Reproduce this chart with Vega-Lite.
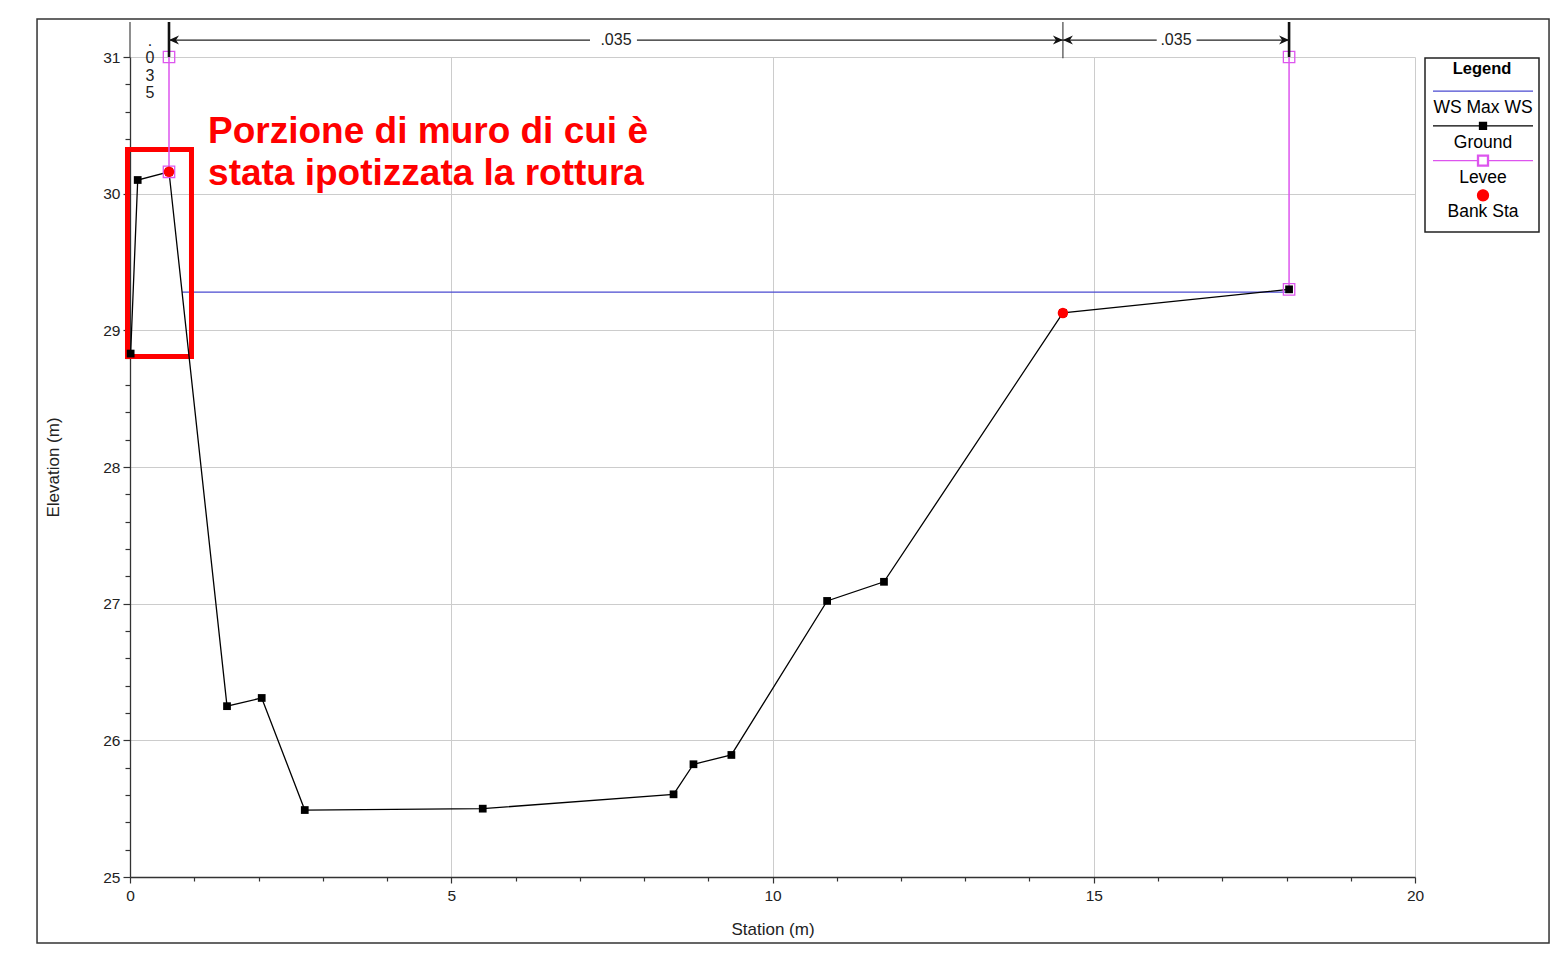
{
  "$schema": "https://vega.github.io/schema/vega-lite/v6.json",
  "width": 1285,
  "height": 820,
  "autosize": {"type": "none"},
  "padding": {"left": 130, "top": 57, "right": 145, "bottom": 78},
  "background": "white",
  "config": {
    "view": {"stroke": null},
    "font": "Liberation Sans"
  },
  "datasets": {
    "profile": [
      {"series": "Ground", "station": 0.01, "elev": 28.83},
      {"series": "Ground", "station": 0.12, "elev": 30.10},
      {"series": "Ground", "station": 0.607, "elev": 30.16},
      {"series": "Ground", "station": 1.51, "elev": 26.25},
      {"series": "Ground", "station": 2.05, "elev": 26.31},
      {"series": "Ground", "station": 2.72, "elev": 25.49},
      {"series": "Ground", "station": 5.49, "elev": 25.50},
      {"series": "Ground", "station": 8.46, "elev": 25.605},
      {"series": "Ground", "station": 8.77, "elev": 25.825},
      {"series": "Ground", "station": 9.36, "elev": 25.893},
      {"series": "Ground", "station": 10.85, "elev": 27.02},
      {"series": "Ground", "station": 11.735, "elev": 27.16},
      {"series": "Ground", "station": 14.52, "elev": 29.127},
      {"series": "Ground", "station": 18.04, "elev": 29.30},
      {"series": "WS Max WS", "station": 0.81, "elev": 29.28},
      {"series": "WS Max WS", "station": 18.04, "elev": 29.28},
      {"series": "Levee", "side": "left", "station": 0.607, "elev": 31.0},
      {"series": "Levee", "side": "left", "station": 0.607, "elev": 30.16},
      {"series": "Levee", "side": "right", "station": 18.04, "elev": 31.0},
      {"series": "Levee", "side": "right", "station": 18.04, "elev": 29.30},
      {"series": "Bank Sta", "station": 0.607, "elev": 30.16},
      {"series": "Bank Sta", "station": 14.52, "elev": 29.127}
    ],
    "nbreaks": [
      {"station": 0, "elev": 31.0, "elev2": 31.256, "kind": "thin"},
      {"station": 14.52, "elev": 30.99, "elev2": 31.256, "kind": "thin"},
      {"station": 0.607, "elev": 31.0, "elev2": 31.256, "kind": "thick"},
      {"station": 18.04, "elev": 31.0, "elev2": 31.256, "kind": "thick"}
    ],
    "nspans": [
      {"station": 0.607, "station2": 7.16, "elev": 31.124},
      {"station": 7.89, "station2": 14.52, "elev": 31.124},
      {"station": 14.52, "station2": 15.98, "elev": 31.124},
      {"station": 16.6, "station2": 18.04, "elev": 31.124}
    ],
    "narrows": [
      {"station": 0.607, "elev": 31.124, "dir": "left"},
      {"station": 14.52, "elev": 31.124, "dir": "right"},
      {"station": 14.52, "elev": 31.124, "dir": "left"},
      {"station": 18.04, "elev": 31.124, "dir": "right"}
    ],
    "nlabels": [
      {"station": 7.564, "elev": 31.124, "label": ".035"},
      {"station": 16.28, "elev": 31.124, "label": ".035"}
    ],
    "nvertical": [
      {"station": 0.311, "elev": 31.08, "label": ".\n0\n3\n5"}
    ],
    "highlight": [
      {"station": -0.039, "station2": 0.957, "elev": 30.323, "elev2": 28.809}
    ],
    "note": [
      {"station": 1.215, "elev": 30.371, "label": "Porzione di muro di cui è\nstata ipotizzata la rottura"}
    ]
  },
  "layer": [
    {
      "data": {"values": [{}]},
      "mark": {"type": "rect", "filled": false, "stroke": "#333333", "strokeWidth": 1.5},
      "encoding": {
        "x": {"datum": -1.447, "type": "quantitative"},
        "x2": {"datum": 22.086},
        "y": {"datum": 31.278, "type": "quantitative"},
        "y2": {"datum": 24.517}
      }
    },
    {
      "data": {"name": "profile"},
      "transform": [{"filter": "datum.series === 'WS Max WS'"}],
      "mark": {"type": "line", "strokeWidth": 1.3},
      "encoding": {
        "x": {
          "field": "station", "type": "quantitative",
          "scale": {"domain": [0, 20], "nice": false, "zero": false},
          "axis": {
            "title": "Station (m)",
            "values": [0,1,2,3,4,5,6,7,8,9,10,11,12,13,14,15,16,17,18,19,20],
            "tickCount": 60,
            "tickMinStep": 0.1,
            "format": "d",
            "labelExpr": "datum.value % 5 === 0 ? datum.label : ''",
            "labelOverlap": false,
            "labelFlush": false,
            "labelFont": "Liberation Sans",
            "labelFontSize": 15.5,
            "labelColor": "#222222",
            "labelPadding": 5,
            "tickSize": {"condition": {"test": "datum.value % 5 === 0", "value": 6}, "value": 4},
            "tickColor": "#333333",
            "tickWidth": 1.2,
            "domainColor": "#333333",
            "domainWidth": 1.3,
            "grid": true,
            "gridColor": "#cccccc",
            "gridWidth": 1,
            "gridOpacity": {"condition": {"test": "datum.value % 5 === 0", "value": 1}, "value": 0},
            "titleFont": "Liberation Sans",
            "titleFontSize": 17,
            "titleFontWeight": "normal",
            "titleColor": "#222222",
            "titlePadding": 18
          }
        },
        "y": {
          "field": "elev", "type": "quantitative",
          "scale": {"domain": [25, 31], "nice": false, "zero": false},
          "axis": {
            "title": "Elevation (m)",
            "values": [25,25.2,25.4,25.6,25.8,26,26.2,26.4,26.6,26.8,27,27.2,27.4,27.6,27.8,28,28.2,28.4,28.6,28.8,29,29.2,29.4,29.6,29.8,30,30.2,30.4,30.6,30.8,31],
            "tickCount": 80,
            "tickMinStep": 0.05,
            "format": "d",
            "labelExpr": "abs(datum.value - round(datum.value)) < 0.001 ? datum.label : ''",
            "labelOverlap": false,
            "labelFlush": false,
            "labelFont": "Liberation Sans",
            "labelFontSize": 15.5,
            "labelColor": "#222222",
            "labelPadding": 3,
            "tickSize": {"condition": {"test": "abs(datum.value - round(datum.value)) < 0.001", "value": 7}, "value": 5},
            "tickColor": "#333333",
            "tickWidth": 1.2,
            "domainColor": "#333333",
            "domainWidth": 1.3,
            "grid": true,
            "gridColor": "#cccccc",
            "gridWidth": 1,
            "gridOpacity": {"condition": {"test": "abs(datum.value - round(datum.value)) < 0.001", "value": 1}, "value": 0},
            "titleFont": "Liberation Sans",
            "titleFontSize": 17,
            "titleFontWeight": "normal",
            "titleColor": "#222222",
            "titlePadding": 40
          }
        },
        "color": {
          "field": "series", "type": "nominal",
          "scale": {
            "domain": ["WS Max WS", "Ground", "Levee", "Bank Sta"],
            "range": ["#4a4ad0", "#000000", "#dd55ee", "#ff0000"]
          },
          "legend": {
            "title": "Legend",
            "orient": "none",
            "legendX": 1295,
            "legendY": 1,
            "direction": "vertical",
            "columns": 1,
            "padding": 3,
            "strokeColor": "#222222",
            "fillColor": "white",
            "cornerRadius": 0,
            "titleFont": "Liberation Sans",
            "titleFontSize": 16.5,
            "titleFontWeight": "bold",
            "titleColor": "#000000",
            "titleAnchor": "middle",
            "titleAlign": "center",
            "titlePadding": 10.7,
            "labelFont": "Liberation Sans",
            "labelFontSize": 17.5,
            "labelColor": "#000000",
            "labelAlign": "center",
            "labelBaseline": "top",
            "labelOffset": -11,
            "symbolSize": 400,
            "symbolStrokeWidth": 1.3,
            "symbolOffset": 44,
            "rowPadding": -1.3,
            "encode": {
              "legend": {
                "update": {
                  "strokeWidth": {"value": 1.5}
                }
              },
              "symbols": {
                "update": {
                  "shape": {"signal": "datum.value === 'WS Max WS' ? 'M0,-1.45M-5,-0.8L5,-0.8' : datum.value === 'Ground' ? 'M0,-1.45M-5,-0.8L5,-0.8M-0.35,-1.15L0.35,-1.15L0.35,-0.45L-0.35,-0.45Z' : datum.value === 'Levee' ? 'M0,-1.45M-5,-0.8L-0.55,-0.8M0.55,-0.8L5,-0.8M-0.55,-1.35L0.55,-1.35L0.55,-0.25L-0.55,-0.25ZM-0.45,-1.25L-0.45,-0.35L0.45,-0.35L0.45,-1.25Z' : 'M0,-1.45M0,2.3M0.55,-0.8A0.55,0.55,0,1,1,-0.55,-0.8A0.55,0.55,0,1,1,0.55,-0.8Z'"},
                  "size": {"value": 400},
                  "strokeWidth": {"value": 1.3},
                  "opacity": {"value": 1}
                }
              }
            }
          }
        }
      }
    },
    {
      "data": {"name": "highlight"},
      "mark": {"type": "rect", "filled": false, "stroke": "#ff0000", "strokeWidth": 5},
      "encoding": {
        "x": {"field": "station", "type": "quantitative"},
        "x2": {"field": "station2"},
        "y": {"field": "elev", "type": "quantitative"},
        "y2": {"field": "elev2"}
      }
    },
    {
      "data": {"name": "profile"},
      "transform": [{"filter": "datum.series === 'Levee'"}],
      "mark": {"type": "line", "strokeWidth": 1.5},
      "encoding": {
        "x": {"field": "station", "type": "quantitative"},
        "y": {"field": "elev", "type": "quantitative"},
        "detail": {"field": "side", "type": "nominal"},
        "color": {"field": "series", "type": "nominal"}
      }
    },
    {
      "data": {"name": "profile"},
      "transform": [{"filter": "datum.series === 'Ground'"}],
      "mark": {"type": "line", "strokeWidth": 1.3},
      "encoding": {
        "x": {"field": "station", "type": "quantitative"},
        "y": {"field": "elev", "type": "quantitative"},
        "color": {"field": "series", "type": "nominal"}
      }
    },
    {
      "data": {"name": "profile"},
      "transform": [{"filter": "datum.series === 'Ground'"}],
      "mark": {"type": "point", "shape": "square", "filled": true, "size": 60, "opacity": 1},
      "encoding": {
        "x": {"field": "station", "type": "quantitative"},
        "y": {"field": "elev", "type": "quantitative"},
        "color": {"field": "series", "type": "nominal"}
      }
    },
    {
      "data": {"name": "profile"},
      "transform": [{"filter": "datum.series === 'Levee'"}],
      "mark": {"type": "point", "shape": "square", "filled": false, "size": 130, "strokeWidth": 1.3, "opacity": 1},
      "encoding": {
        "x": {"field": "station", "type": "quantitative"},
        "y": {"field": "elev", "type": "quantitative"},
        "color": {"field": "series", "type": "nominal"}
      }
    },
    {
      "data": {"name": "profile"},
      "transform": [{"filter": "datum.series === 'Bank Sta'"}],
      "mark": {"type": "point", "shape": "circle", "filled": true, "size": 110, "opacity": 1},
      "encoding": {
        "x": {"field": "station", "type": "quantitative"},
        "y": {"field": "elev", "type": "quantitative"},
        "color": {"field": "series", "type": "nominal"}
      }
    },
    {
      "data": {"name": "nbreaks"},
      "transform": [{"filter": "datum.kind === 'thin'"}],
      "mark": {"type": "rule", "stroke": "#444444", "strokeWidth": 1.2},
      "encoding": {
        "x": {"field": "station", "type": "quantitative"},
        "y": {"field": "elev", "type": "quantitative"},
        "y2": {"field": "elev2"}
      }
    },
    {
      "data": {"name": "nbreaks"},
      "transform": [{"filter": "datum.kind === 'thick'"}],
      "mark": {"type": "rule", "stroke": "#111111", "strokeWidth": 2.6},
      "encoding": {
        "x": {"field": "station", "type": "quantitative"},
        "y": {"field": "elev", "type": "quantitative"},
        "y2": {"field": "elev2"}
      }
    },
    {
      "data": {"name": "nspans"},
      "mark": {"type": "rule", "stroke": "#222222", "strokeWidth": 1.2},
      "encoding": {
        "x": {"field": "station", "type": "quantitative"},
        "x2": {"field": "station2"},
        "y": {"field": "elev", "type": "quantitative"}
      }
    },
    {
      "data": {"name": "narrows"},
      "transform": [{"filter": "datum.dir === 'left'"}],
      "mark": {"type": "point", "shape": "M0,0L1,-0.45L0.7,0L1,0.45Z", "filled": true, "color": "#111111", "size": 400, "opacity": 1},
      "encoding": {
        "x": {"field": "station", "type": "quantitative"},
        "y": {"field": "elev", "type": "quantitative"}
      }
    },
    {
      "data": {"name": "narrows"},
      "transform": [{"filter": "datum.dir === 'right'"}],
      "mark": {"type": "point", "shape": "M0,0L-1,-0.45L-0.7,0L-1,0.45Z", "filled": true, "color": "#111111", "size": 400, "opacity": 1},
      "encoding": {
        "x": {"field": "station", "type": "quantitative"},
        "y": {"field": "elev", "type": "quantitative"}
      }
    },
    {
      "data": {"name": "nlabels"},
      "mark": {"type": "text", "font": "Liberation Sans", "fontSize": 16, "color": "#222222", "align": "center", "baseline": "middle"},
      "encoding": {
        "x": {"field": "station", "type": "quantitative"},
        "y": {"field": "elev", "type": "quantitative"},
        "text": {"field": "label"}
      }
    },
    {
      "data": {"name": "nvertical"},
      "mark": {"type": "text", "font": "Liberation Sans", "fontSize": 16, "color": "#222222", "align": "center", "baseline": "alphabetic", "lineBreak": "\n", "lineHeight": 17.4},
      "encoding": {
        "x": {"field": "station", "type": "quantitative"},
        "y": {"field": "elev", "type": "quantitative"},
        "text": {"field": "label"}
      }
    },
    {
      "data": {"name": "note"},
      "mark": {"type": "text", "font": "Liberation Sans", "fontSize": 37, "fontWeight": "bold", "color": "#ff0000", "align": "left", "baseline": "alphabetic", "lineBreak": "\n", "lineHeight": 42},
      "encoding": {
        "x": {"field": "station", "type": "quantitative"},
        "y": {"field": "elev", "type": "quantitative"},
        "text": {"field": "label"}
      }
    }
  ]
}
